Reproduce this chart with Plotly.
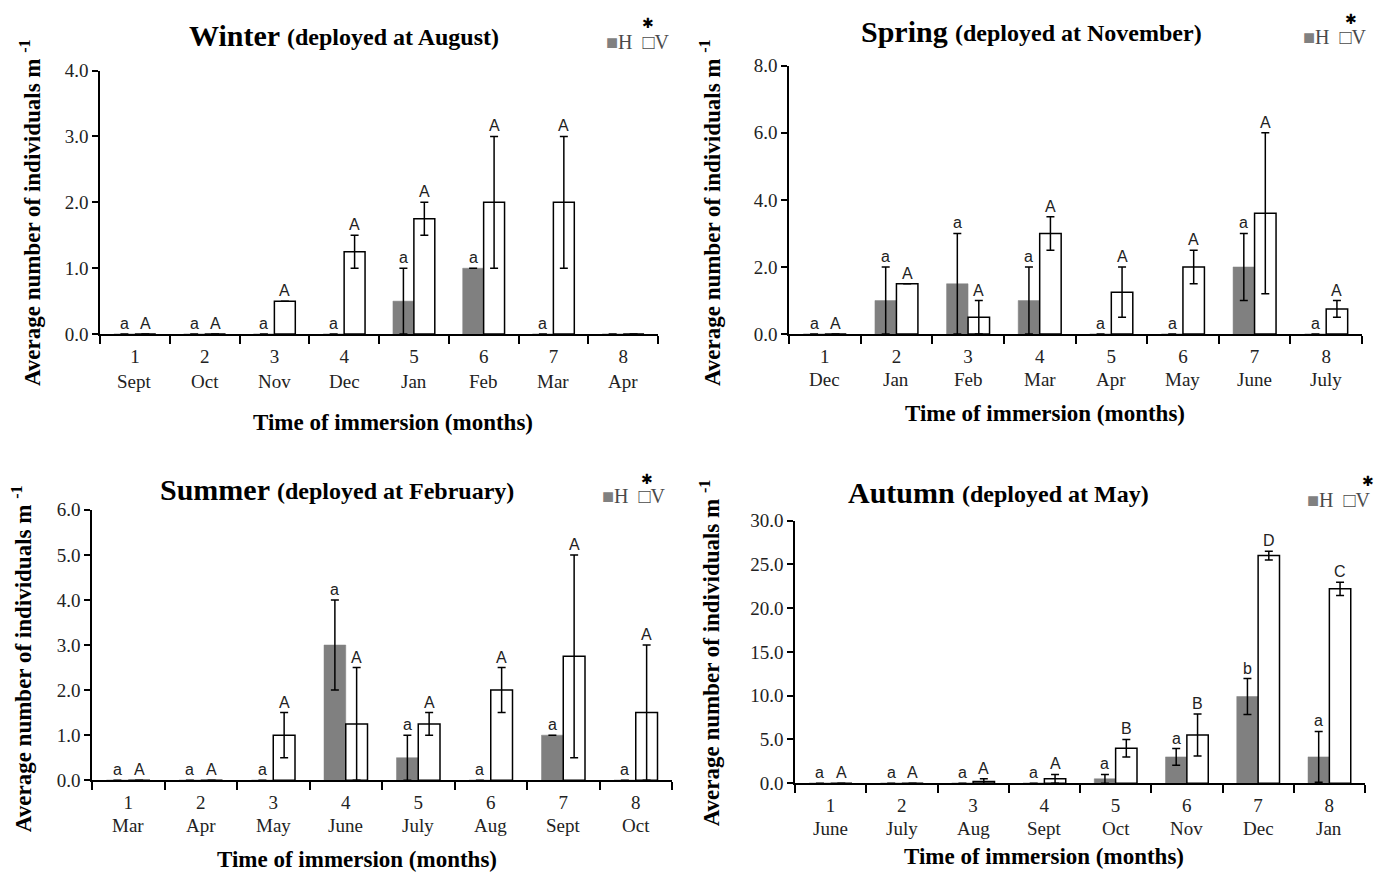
import plotly.graph_objects as go

# ---------------- data ----------------
immersion = [1, 2, 3, 4, 5, 6, 7, 8]

winter_months = ["Sept", "Oct", "Nov", "Dec", "Jan", "Feb", "Mar", "Apr"]
winter_h = [0, 0, 0, 0, 0.5, 1.0, 0, 0]
winter_h_err = [0, 0, 0, 0, 0.5, 0, 0, 0]
winter_v = [0, 0, 0.5, 1.25, 1.75, 2.0, 2.0, 0]
winter_v_err = [0, 0, 0, 0.25, 0.25, 1.0, 1.0, 0]
winter_h_letters = ["a", "a", "a", "a", "a", "a", "a", ""]
winter_v_letters = ["A", "A", "A", "A", "A", "A", "A", ""]

spring_months = ["Dec", "Jan", "Feb", "Mar", "Apr", "May", "June", "July"]
spring_h = [0, 1.0, 1.5, 1.0, 0, 0, 2.0, 0]
spring_h_err = [0, 1.0, 1.5, 1.0, 0, 0, 1.0, 0]
spring_v = [0, 1.5, 0.5, 3.0, 1.25, 2.0, 3.6, 0.75]
spring_v_err = [0, 0, 0.5, 0.5, 0.75, 0.5, 2.4, 0.25]
spring_h_letters = ["a"] * 8
spring_v_letters = ["A"] * 8

summer_months = ["Mar", "Apr", "May", "June", "July", "Aug", "Sept", "Oct"]
summer_h = [0, 0, 0, 3.0, 0.5, 0, 1.0, 0]
summer_h_err = [0, 0, 0, 1.0, 0.5, 0, 0, 0]
summer_v = [0, 0, 1.0, 1.25, 1.25, 2.0, 2.75, 1.5]
summer_v_err = [0, 0, 0.5, 1.25, 0.25, 0.5, 2.25, 1.5]
summer_h_letters = ["a"] * 8
summer_v_letters = ["A"] * 8

autumn_months = ["June", "July", "Aug", "Sept", "Oct", "Nov", "Dec", "Jan"]
autumn_h = [0, 0, 0, 0, 0.5, 3.0, 9.9, 3.0]
autumn_h_err = [0, 0, 0, 0, 0.5, 0.95, 2.05, 2.9]
autumn_v = [0, 0, 0.2, 0.5, 4.0, 5.5, 26.0, 22.2]
autumn_v_err = [0, 0, 0.3, 0.5, 1.0, 2.4, 0.5, 0.75]
autumn_h_letters = ["a", "a", "a", "a", "a", "a", "b", "a"]
autumn_v_letters = ["A", "A", "A", "A", "B", "B", "D", "C"]

# ---------------- layout helpers ----------------
W, H = 1380, 882
SERIF = "Liberation Serif"
SANS = "Liberation Sans"
def fx(x): return x / W
def fy(y): return 1 - y / H

panels = [
    dict(title="Winter", sub="(deployed at August)", months=winter_months,
         h=winter_h, he=winter_h_err, v=winter_v, ve=winter_v_err,
         hl=winter_h_letters, vl=winter_v_letters, ymax=4, dtick=1,
         box=(100, 62, 658, 332), split=282, base=37, xt_xy=(393, 423),
         yt_xy=(30, 208), mon_y=381, leg_y=33, leg_x=604, star=(648, 15)),
    dict(title="Spring", sub="(deployed at November)", months=spring_months,
         h=spring_h, he=spring_h_err, v=spring_v, ve=spring_v_err,
         hl=spring_h_letters, vl=spring_v_letters, ymax=8, dtick=2,
         box=(789, 57, 1362, 332), split=950, base=33, xt_xy=(1045, 413),
         yt_xy=(710, 207), mon_y=378, leg_y=28, leg_x=1301, star=(1351, 11)),
    dict(title="Summer", sub="(deployed at February)", months=summer_months,
         h=summer_h, he=summer_h_err, v=summer_v, ve=summer_v_err,
         hl=summer_h_letters, vl=summer_v_letters, ymax=6, dtick=1,
         box=(92, 512, 672, 789), split=272, base=502, xt_xy=(357, 870),
         yt_xy=(22, 665), mon_y=835, leg_y=498, leg_x=600, star=(647, 482)),
    dict(title="Autumn", sub="(deployed at May)", months=autumn_months,
         h=autumn_h, he=autumn_h_err, v=autumn_v, ve=autumn_v_err,
         hl=autumn_h_letters, vl=autumn_v_letters, ymax=30, dtick=5,
         box=(795, 523, 1365, 792), split=957, base=505, xt_xy=(1044, 867),
         yt_xy=(710, 658), mon_y=838, leg_y=502, leg_x=1305, star=(1368, 484)),
]

fig = go.Figure()
annotations = []
layout_axes = {}
BW = 0.3
OFF = 0.15
TICK_SIZE = 19

for i, p in enumerate(panels):
    n = "" if i == 0 else str(i + 1)
    xa, ya = "x" + n, "y" + n
    x0, y0, x1, y1 = p["box"]
    xh = [k - OFF for k in immersion]
    xv = [k + OFF for k in immersion]
    fig.add_trace(go.Bar(
        x=xh, y=p["h"], width=BW, xaxis=xa, yaxis=ya, name="H", showlegend=False,
        marker=dict(color="#808080", line=dict(color="#808080", width=0.5)),
        error_y=dict(type="data", array=p["he"], color="black", thickness=1.5, width=4),
    ))
    fig.add_trace(go.Bar(
        x=xv, y=p["v"], width=BW, xaxis=xa, yaxis=ya, name="V", showlegend=False,
        marker=dict(color="white", line=dict(color="black", width=1.5)),
        error_y=dict(type="data", array=p["ve"], color="black", thickness=1.5, width=4),
    ))
    # significance letters
    for xs, vals, errs, labs in ((xh, p["h"], p["he"], p["hl"]), (xv, p["v"], p["ve"], p["vl"])):
        for xx, vv, ee, lab in zip(xs, vals, errs, labs):
            if not lab:
                continue
            annotations.append(dict(x=xx, y=vv + ee, xref=xa, yref=ya, text=lab,
                                    showarrow=False, yanchor="bottom", yshift=0,
                                    font=dict(family=SANS, size=16, color="#222")))
    # month labels
    for k, m in zip(immersion, p["months"]):
        annotations.append(dict(x=k, y=fy(p["mon_y"]), xref=xa, yref="paper", text=m,
                                showarrow=False, yanchor="middle",
                                font=dict(family=SERIF, size=TICK_SIZE, color="#222")))
    # title (two parts)
    annotations.append(dict(
        x=fx(p["split"]), y=fy(p["base"] + 8), xref="paper", yref="paper",
        text=f"<b>{p['title']}</b>", showarrow=False, xanchor="right", yanchor="bottom",
        font=dict(family=SERIF, size=30, color="black")))
    annotations.append(dict(
        x=fx(p["split"] + 3), y=fy(p["base"] + 6), xref="paper", yref="paper",
        text=f"<b>{p['sub']}</b>", showarrow=False, xanchor="left", yanchor="bottom",
        font=dict(family=SERIF, size=24, color="black")))
    # x title
    annotations.append(dict(
        x=fx(p["xt_xy"][0]), y=fy(p["xt_xy"][1]), xref="paper", yref="paper",
        text="<b>Time of immersion (months)</b>", showarrow=False,
        xanchor="center", yanchor="middle", font=dict(family=SERIF, size=23, color="black")))
    # y title
    annotations.append(dict(
        x=fx(p["yt_xy"][0]), y=fy(p["yt_xy"][1]), xref="paper", yref="paper",
        text="<b>Average number of individuals m <sup>-1</sup></b>", showarrow=False,
        textangle=-90, xanchor="center", yanchor="middle",
        font=dict(family=SERIF, size=23, color="black")))
    # legend: grey square + "H", open square + "V", asterisk above V
    annotations.append(dict(
        x=fx(p["leg_x"]), y=fy(p["leg_y"]), xref="paper", yref="paper",
        text="■", showarrow=False, xanchor="left", yanchor="middle",
        font=dict(family=SERIF, size=20, color="#808080")))
    annotations.append(dict(
        x=fx(p["leg_x"] + 12), y=fy(p["leg_y"]), xref="paper", yref="paper",
        text="H  □V", showarrow=False, xanchor="left", yanchor="middle",
        font=dict(family=SERIF, size=20, color="#4a4a4a")))
    annotations.append(dict(
        x=fx(p["star"][0]), y=fy(p["star"][1] - 2), xref="paper", yref="paper",
        text="✱", showarrow=False, xanchor="center", yanchor="middle",
        font=dict(family="DejaVu Sans", size=14, color="black")))

    layout_axes["xaxis" + n] = dict(
        domain=[fx(x0), fx(x1)], anchor=ya, range=[0.5, 8.5],
        tickvals=immersion, ticktext=[str(k) for k in immersion],
        ticks="", showline=True, linecolor="black", linewidth=1.5,
        showgrid=False, zeroline=False, ticklabelstandoff=4,
        tickfont=dict(family=SERIF, size=TICK_SIZE, color="#222"),
        minor=dict(tickvals=[k + 0.5 for k in range(0, 9)], ticks="outside",
                   ticklen=8, tickwidth=1.5, tickcolor="black"),
    )
    layout_axes["yaxis" + n] = dict(
        domain=[fy(y1), fy(y0)], anchor=xa, range=[0, p["ymax"]], dtick=p["dtick"],
        tickformat=".1f", ticks="outside", ticklen=6, tickwidth=1.5, tickcolor="black",
        showline=True, linecolor="black", linewidth=1.5, showgrid=False, zeroline=False,
        tickfont=dict(family=SERIF, size=TICK_SIZE, color="#222"),
    )

fig.update_layout(
    width=W, height=H, margin=dict(l=0, r=0, t=0, b=0),
    paper_bgcolor="white", plot_bgcolor="white",
    barmode="overlay", showlegend=False,
    annotations=annotations, **layout_axes,
)

fig.write_html("out.html")
